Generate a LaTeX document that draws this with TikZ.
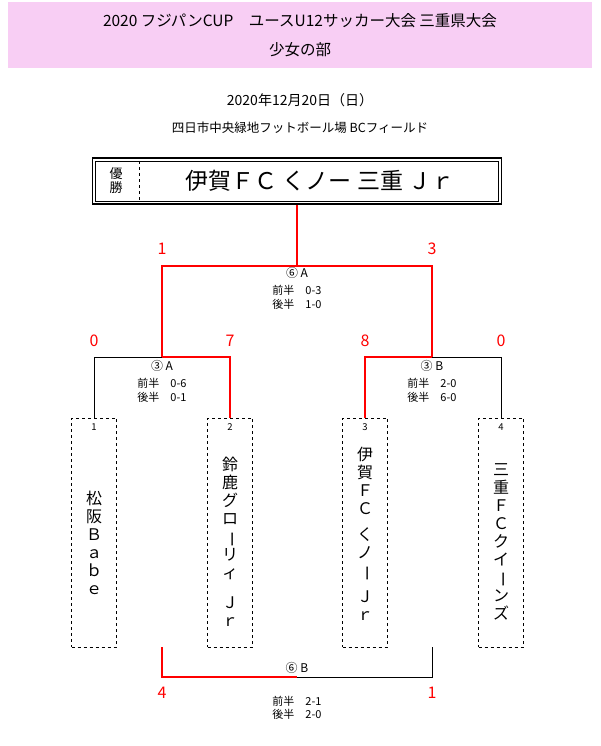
\documentclass[tikz,border=0pt]{standalone}
\usepackage{fontspec}
\setmainfont{Noto Sans CJK JP}
\usetikzlibrary{positioning}
\definecolor{banner}{RGB}{248,206,244}
\newcommand{\vbar}{\rotatebox[origin=c]{-90}{ー}}
\begin{document}
\begin{tikzpicture}[x=1pt,y=-1pt,
  line/.style={black, line width=0.9pt},
  win/.style={red, line width=2.8pt},
  score/.style={red, font=\fontsize{16}{16}\selectfont},
  half/.style={font=\fontsize{11}{13.5}\selectfont, align=left},
  game/.style={font=\fontsize{12}{12}\selectfont},
  team/.style={draw, dashed, minimum width=45pt, minimum height=229pt, inner sep=0pt},
  vtext/.style={font=\fontsize{16}{18}\selectfont, align=center}
]
\useasboundingbox (0,0) rectangle (600,746);

% Banner and heading
\node[fill=banner, minimum width=584pt, minimum height=66pt, anchor=north] (banner) at (300,2) {};
\node[font=\fontsize{15.5}{15.5}\selectfont] (title) at (300,21) {2020 フジパンCUP\quad ユースU12サッカー大会 三重県大会};
\node[font=\fontsize{15.5}{15.5}\selectfont] (sub) at (300,50) {少女の部};
\node[font=\fontsize{14}{14}\selectfont] (date) at (300,100) {2020年12月20日（日）};
\node[font=\fontsize{12.5}{12.5}\selectfont] (venue) at (300,128) {四日市中央緑地フットボール場 BCフィールド};

% Champion
\node[draw, line width=1.2pt, minimum width=409pt, minimum height=46pt] (champ) at (297,181) {};
\node[draw, line width=0.6pt, minimum width=403pt, minimum height=40pt] (champin) at (297,181) {};
\draw[dashed] (139,161) -- (139,202);
\node[font=\fontsize{13}{14}\selectfont, align=center] (yusho) at (116,181) {優\\勝};
\node[font=\fontsize{23}{23}\selectfont] (winner) at (320,181) {伊賀ＦＣ くノー 三重 Ｊｒ};

% Teams
\foreach \i/\x in {1/94, 2/230, 3/365, 4/501}{
  \node[team, anchor=north] (t\i) at (\x,418) {};
  \node[font=\fontsize{9.5}{9.5}\selectfont, below=2pt of t\i.north] (n\i) {\i};
}
\node[vtext, below=70pt of t1.north] {松\\阪\\Ｂ\\ａ\\ｂ\\ｅ};
\node[vtext, below=36pt of t2.north] {鈴\\鹿\\グ\\ロ\\\vbar\\リ\\ィ\\[12pt]Ｊ\\ｒ};
\node[vtext, below=26pt of t3.north] {伊\\賀\\Ｆ\\Ｃ\\[8pt]く\\ノ\\\vbar\\[8pt]Ｊ\\ｒ};
\node[vtext, below=42pt of t4.north] {三\\重\\Ｆ\\Ｃ\\ク\\イ\\\vbar\\ン\\ズ};

% Semi-finals
\coordinate (s1) at (162,357);
\coordinate (s2) at (432,357);
\draw[line] (t1.north) |- (s1);
\draw[line] (t4.north) |- (s2);
\draw[win] (s1) -| (t2.north);
\draw[win] (s2) -| (t3.north);
\node[score] at (94,341) {0};
\node[score] at (230,341) {7};
\node[score] at (365,341) {8};
\node[score] at (501,341) {0};
\node[game] (g3a) at (162,366) {③ A};
\node[half, below=0pt of g3a] {前半\quad 0-6\\後半\quad 0-1};
\node[game] (g3b) at (432,366) {③ B};
\node[half, below=0pt of g3b] {前半\quad 2-0\\後半\quad 6-0};

% Final
\coordinate (f) at (297,266);
\draw[line] (s1) |- (f);
\draw[win] (s1) -- (162,266) -- (f);
\draw[win] (s2) |- (f);
\draw[win] (f) -- (champ.south);
\node[score] at (162,249) {1};
\node[score] at (432,249) {3};
\node[game] (g6a) at (297,273) {⑥ A};
\node[half, below=0pt of g6a] {前半\quad 0-3\\後半\quad 1-0};

% Third place
\coordinate (b1) at (162,647);
\coordinate (b2) at (432,647);
\coordinate (m) at (297,677);
\draw[line] (b2) |- (m);
\draw[win] (b1) |- (m);
\node[game] (g6b) at (297,668) {⑥ B};
\node[score] at (162,693) {4};
\node[score] at (432,693) {1};
\node[half] at (297,708) {前半\quad 2-1\\後半\quad 2-0};
\end{tikzpicture}
\end{document}
